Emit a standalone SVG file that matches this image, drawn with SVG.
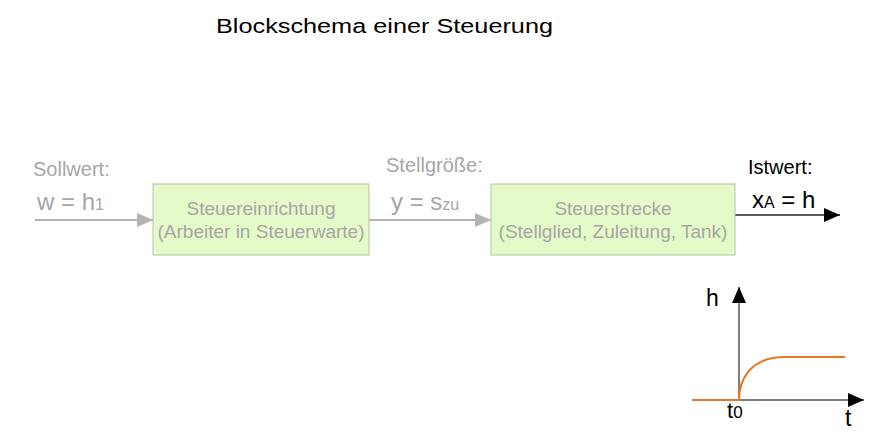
<svg xmlns="http://www.w3.org/2000/svg" width="883" height="438" viewBox="0 0 883 438">
<style>
.t{font-family:"Liberation Sans",Arial,sans-serif}
.g{fill:#a6a6a6}
.k{fill:#000}
.box{fill:#e4fac8;stroke:#b2c6a2;stroke-width:1}
.gl{stroke:#b4b4b4;stroke-width:2;fill:none}
.bl{stroke:#5a5a5a;stroke-width:2;fill:none}
.ax{stroke:#555;stroke-width:1.5;fill:none}
</style>
<defs>
<marker id="ag" markerUnits="userSpaceOnUse" markerWidth="17" markerHeight="14" refX="16" refY="7" orient="auto"><path d="M0,0 L16,7 L0,14 Z" fill="#b4b4b4"/></marker>
<marker id="ak" markerUnits="userSpaceOnUse" markerWidth="17" markerHeight="14" refX="16" refY="7" orient="auto"><path d="M0,0 L16,7 L0,14 Z" fill="#000"/></marker>
</defs>
<rect width="883" height="438" fill="#fff"/>
<text class="t k" x="216" y="33" font-size="20" textLength="337" lengthAdjust="spacingAndGlyphs">Blockschema einer Steuerung</text>
<g id="connectors">
<line class="gl" x1="35" y1="220" x2="153" y2="220" marker-end="url(#ag)"/>
<line class="gl" x1="369" y1="220" x2="491" y2="220" marker-end="url(#ag)"/>
<line class="bl" x1="735" y1="215" x2="840" y2="215" marker-end="url(#ak)"/>
</g>
<g id="sollwert">
<text class="t g" x="33" y="176" font-size="20">Sollwert:</text>
<text class="t g" x="37" y="210" font-size="24">w = h<tspan font-size="16">1</tspan></text>
</g>
<g id="steuereinrichtung">
<rect class="box" x="153" y="184" width="216" height="71"/>
<text class="t g" x="261" y="215" font-size="19" text-anchor="middle">Steuereinrichtung</text>
<text class="t g" x="261" y="238" font-size="19" text-anchor="middle">(Arbeiter in Steuerwarte)</text>
</g>
<g id="stellgroesse">
<text class="t g" x="386" y="172" font-size="20">Stellgröße:</text>
<text class="t g" x="391" y="210" font-size="24">y = s<tspan font-size="16">zu</tspan></text>
</g>
<g id="steuerstrecke">
<rect class="box" x="491" y="184" width="244" height="71"/>
<text class="t g" x="613" y="215" font-size="19" text-anchor="middle">Steuerstrecke</text>
<text class="t g" x="613" y="238" font-size="19" text-anchor="middle">(Stellglied, Zuleitung, Tank)</text>
</g>
<g id="istwert">
<text class="t k" x="748" y="174" font-size="20">Istwert:</text>
<text class="t k" x="752" y="208" font-size="24">x<tspan font-size="16">A</tspan> = h</text>
</g>
<g id="chart">
<line class="ax" x1="739" y1="400" x2="739" y2="287" marker-end="url(#ak)"/>
<line class="ax" x1="739" y1="400" x2="864" y2="400" marker-end="url(#ak)"/>
<path d="M692,400 L739,400 C739,380 750,357 785,357 L845,357" fill="none" stroke="#e87722" stroke-width="2"/>
<text class="t k" x="706" y="306" font-size="23">h</text>
<text class="t k" x="727" y="418" font-size="22">t<tspan font-size="17">0</tspan></text>
<text class="t k" x="845" y="426" font-size="23">t</text>
</g>
</svg>
